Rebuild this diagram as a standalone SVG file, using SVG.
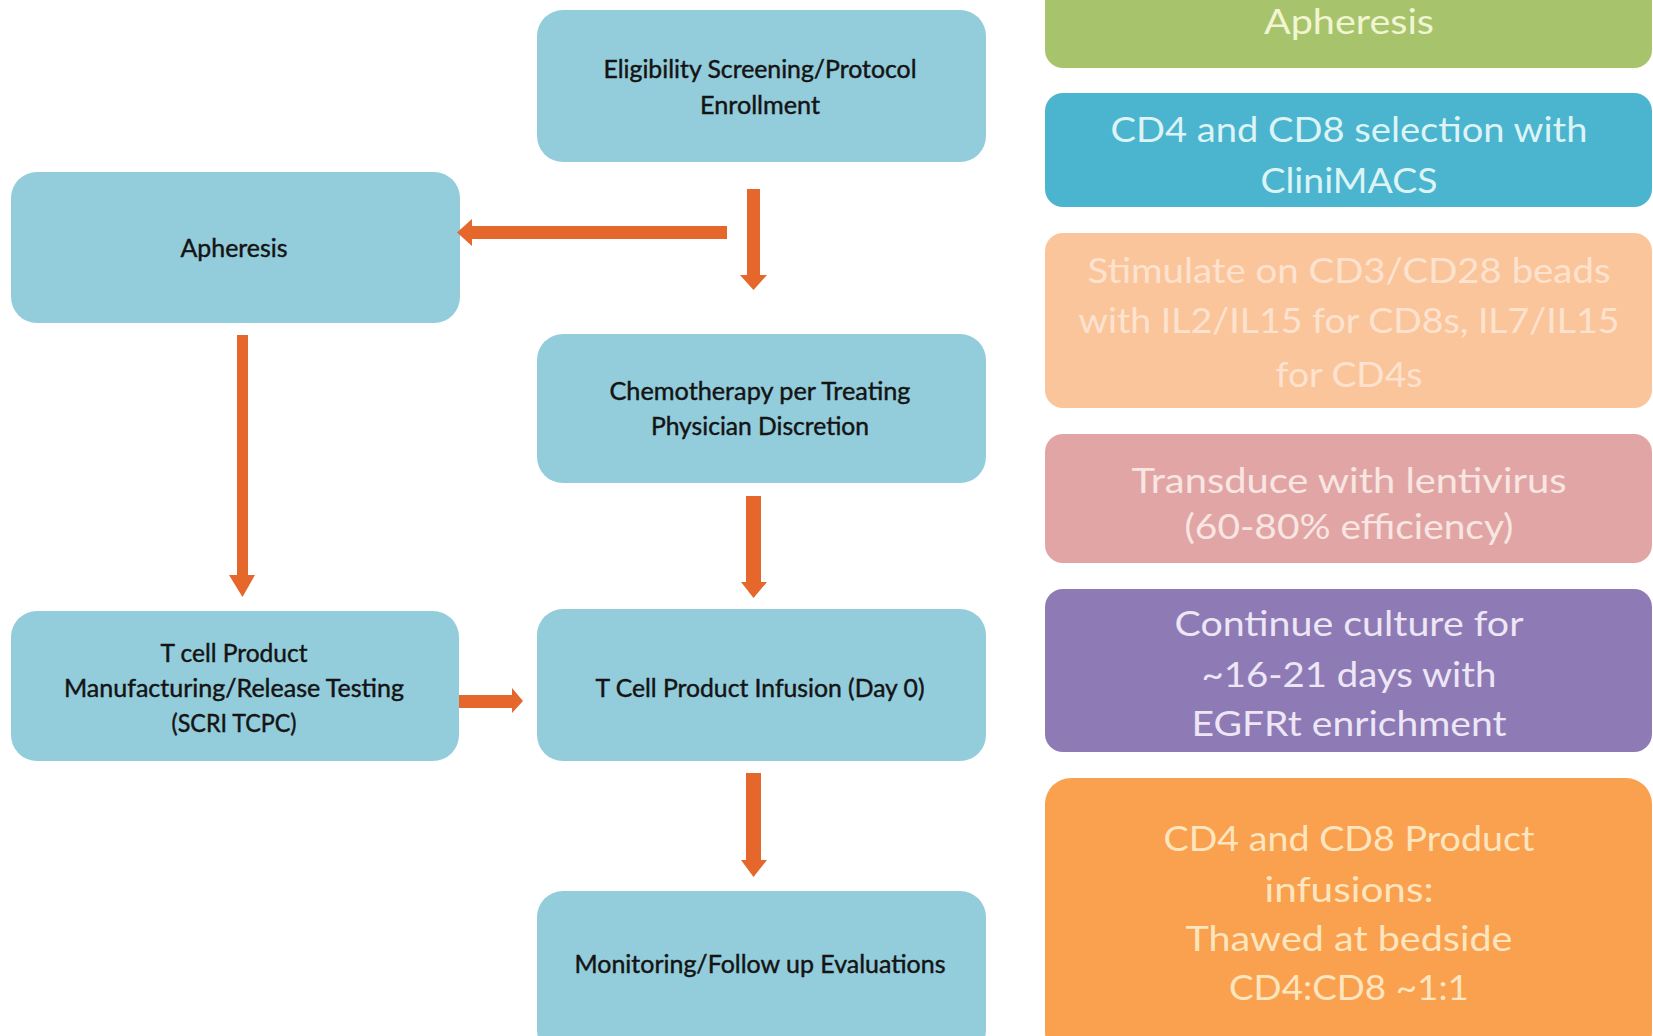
<svg xmlns="http://www.w3.org/2000/svg" width="1653" height="1036" viewBox="0 0 1653 1036">
<style>
.n{fill:#93CDDC}
.t{font-family:Lato,"Open Sans","Liberation Sans",sans-serif;font-size:25px;fill:#141414;stroke:#141414;stroke-width:0.45px;text-anchor:middle}
.r{font-family:Lato,"Open Sans","Liberation Sans",sans-serif;font-size:35px;text-anchor:middle}
.a{fill:#E5672B}
</style>
<rect width="1653" height="1036" fill="#ffffff"/>
<g id="eligibility"><rect class="n" x="537" y="10" width="449" height="152" rx="26"/>
<text class="t" x="760" y="78" textLength="313" lengthAdjust="spacingAndGlyphs">Eligibility Screening/Protocol</text>
<text class="t" x="760" y="114" textLength="120" lengthAdjust="spacingAndGlyphs">Enrollment</text></g>
<g id="apheresis"><rect class="n" x="11" y="172" width="449" height="151" rx="26"/>
<text class="t" x="234" y="257" textLength="107" lengthAdjust="spacingAndGlyphs">Apheresis</text></g>
<g id="chemo"><rect class="n" x="537" y="334" width="449" height="149" rx="26"/>
<text class="t" x="760" y="400" textLength="301" lengthAdjust="spacingAndGlyphs">Chemotherapy per Treating</text>
<text class="t" x="760" y="435" textLength="218" lengthAdjust="spacingAndGlyphs">Physician Discretion</text></g>
<g id="manufacturing"><rect class="n" x="11" y="611" width="448" height="150" rx="26"/>
<text class="t" x="234" y="662" textLength="147" lengthAdjust="spacingAndGlyphs">T cell Product</text>
<text class="t" x="234" y="697" textLength="340" lengthAdjust="spacingAndGlyphs">Manufacturing/Release Testing</text>
<text class="t" x="234" y="732" textLength="125" lengthAdjust="spacingAndGlyphs">(SCRI TCPC)</text></g>
<g id="infusion"><rect class="n" x="537" y="609" width="449" height="152" rx="26"/>
<text class="t" x="760" y="697" textLength="329" lengthAdjust="spacingAndGlyphs">T Cell Product Infusion (Day 0)</text></g>
<g id="monitoring"><rect class="n" x="537" y="891" width="449" height="165" rx="26"/>
<text class="t" x="760" y="973" textLength="371" lengthAdjust="spacingAndGlyphs">Monitoring/Follow up Evaluations</text></g>

<g id="connectors">
<polygon class="a" points="727,226 472,226 472,219 457,232.5 472,246 472,239 727,239"/>
<polygon class="a" points="747,189 760,189 760,275 767,275 753.5,290 740,275 747,275"/>
<polygon class="a" points="237,335 248,335 248,575 255,575 242.5,597 229,575 237,575"/>
<polygon class="a" points="746,496 761,496 761,582 767,582 753.5,598 741,582 746,582"/>
<polygon class="a" points="459,695 512,695 512,688 523,701 512,713 512,708 459,708"/>
<polygon class="a" points="746,773 761,773 761,860 767,860 753.5,877 741,860 746,860"/>
</g>

<g id="r-apheresis"><rect x="1045" y="-30" width="607" height="98" rx="18" fill="#A7C46C"/>
<text class="r" x="1349" y="34" fill="#F1F5D2" textLength="170" lengthAdjust="spacingAndGlyphs">Apheresis</text></g>
<g id="r-selection"><rect x="1045" y="93" width="607" height="114" rx="18" fill="#4BB4CF"/>
<text class="r" x="1349" y="142" fill="#DDF4F6" textLength="477" lengthAdjust="spacingAndGlyphs">CD4 and CD8 selection with</text>
<text class="r" x="1349" y="193" fill="#DDF4F6" textLength="177" lengthAdjust="spacingAndGlyphs">CliniMACS</text></g>
<g id="r-stimulate"><rect x="1045" y="233" width="607" height="175" rx="18" fill="#FBC59C"/>
<text class="r" x="1349" y="283" fill="#FDE3CF" textLength="523" lengthAdjust="spacingAndGlyphs">Stimulate on CD3/CD28 beads</text>
<text class="r" x="1349" y="333" fill="#FDE3CF" textLength="541" lengthAdjust="spacingAndGlyphs">with IL2/IL15 for CD8s, IL7/IL15</text>
<text class="r" x="1349" y="387" fill="#FDE3CF" textLength="147" lengthAdjust="spacingAndGlyphs">for CD4s</text></g>
<g id="r-transduce"><rect x="1045" y="434" width="607" height="129" rx="18" fill="#E2A5A5"/>
<text class="r" x="1349" y="493" fill="#F8E6E2" textLength="435" lengthAdjust="spacingAndGlyphs">Transduce with lentivirus</text>
<text class="r" x="1349" y="539" fill="#F8E6E2" textLength="329" lengthAdjust="spacingAndGlyphs">(60-80% efficiency)</text></g>
<g id="r-culture"><rect x="1045" y="589" width="607" height="163" rx="18" fill="#8E7BB6"/>
<text class="r" x="1349" y="636" fill="#EDE6F5" textLength="349" lengthAdjust="spacingAndGlyphs">Continue culture for</text>
<text class="r" x="1349" y="687" fill="#EDE6F5" textLength="295" lengthAdjust="spacingAndGlyphs">~16-21 days with</text>
<text class="r" x="1349" y="736" fill="#EDE6F5" textLength="315" lengthAdjust="spacingAndGlyphs">EGFRt enrichment</text></g>
<g id="r-product"><rect x="1045" y="778" width="607" height="280" rx="26" fill="#F9A14F"/>
<text class="r" x="1349" y="851" fill="#FDE5BF" textLength="371" lengthAdjust="spacingAndGlyphs">CD4 and CD8 Product</text>
<text class="r" x="1349" y="902" fill="#FDE5BF" textLength="169" lengthAdjust="spacingAndGlyphs">infusions:</text>
<text class="r" x="1349" y="951" fill="#FDE5BF" textLength="327" lengthAdjust="spacingAndGlyphs">Thawed at bedside</text>
<text class="r" x="1349" y="1000" fill="#FDE5BF" textLength="240" lengthAdjust="spacingAndGlyphs">CD4:CD8 ~1:1</text></g>
</svg>
